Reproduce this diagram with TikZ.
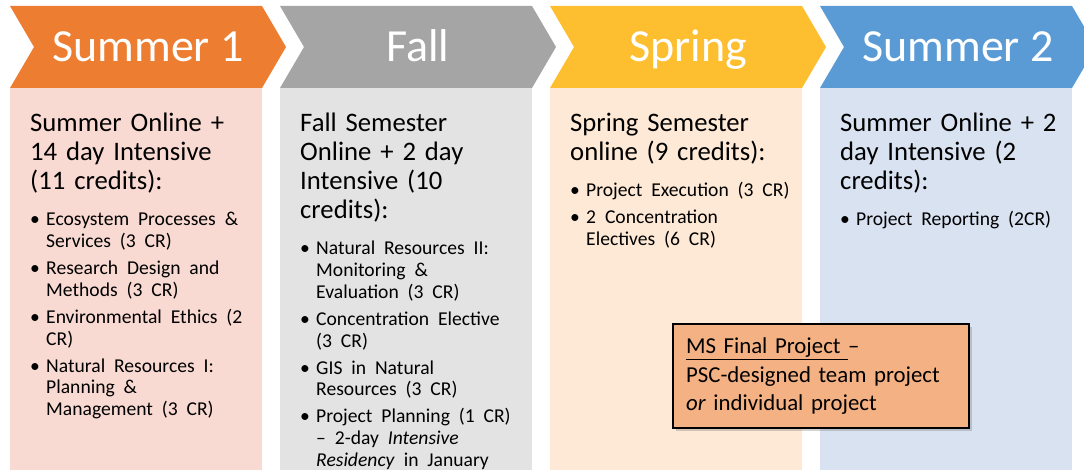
\documentclass[tikz,border=0pt]{standalone}
\usepackage{fontspec}
\setmainfont{Carlito}
\usetikzlibrary{shadows}

\definecolor{sumorange}{HTML}{ED7D31}
\definecolor{fallgrey}{HTML}{A5A5A5}
\definecolor{springgold}{HTML}{FDBF2F}
\definecolor{sumblue}{HTML}{5B9BD5}
\definecolor{pinkpale}{HTML}{F8DAD2}
\definecolor{greypale}{HTML}{E3E3E3}
\definecolor{goldpale}{HTML}{FDE9D5}
\definecolor{bluepale}{HTML}{D9E2F1}
\definecolor{projfill}{HTML}{F4B183}

% heading of a term, then its courses
\newcommand{\lines}[1]{\begin{tabular}[t]{@{}l@{}}#1\end{tabular}}
\newcommand{\termhead}[1]{\noindent\lines{#1}\par\vspace{6.8pt}}
\newcommand{\crs}[1]{\par\vspace{5.3pt}\fontsize{19.6}{21.7}\selectfont
  \noindent\makebox[16pt][l]{\textbullet}\lines{#1}\par}

\begin{document}
\begin{tikzpicture}[
        x=1pt, y=-1pt,
        panel/.style={rectangle, inner sep=0pt, anchor=north west,
          minimum width=252pt, minimum height=382pt},
        title/.style={anchor=base, text=white, inner sep=0pt,
          font=\fontsize{46}{50}\selectfont},
        body/.style={anchor=base west, inner sep=0pt, text width=245pt,
          font=\fontsize{26.7}{29}\selectfont,
          execute at begin node={\lineskip=0pt\parskip=0pt}},
        project/.style={draw=black, line width=2.2pt, fill=projfill,
          anchor=north west, minimum width=296pt, minimum height=104pt,
          text width=270pt, inner xsep=13pt, align=left,
          font=\fontsize{22.8}{28.5}\selectfont,
          drop shadow={shadow xshift=3pt, shadow yshift=-3pt, opacity=0.35}}
        ]
        \useasboundingbox (0,0) rectangle (1084,470);

        % chevrons
        \fill[sumorange] (10,6) -- (262,6) -- (286,47) -- (262,88) -- (10,88) -- (34,47) -- cycle;
        \fill[fallgrey] (280,6) -- (532,6) -- (556,47) -- (532,88) -- (280,88) -- (304,47) -- cycle;
        \fill[springgold] (550,6) -- (802,6) -- (826,47) -- (802,88) -- (550,88) -- (574,47) -- cycle;
        \fill[sumblue] (820,6) -- (1072,6) -- (1096,47) -- (1072,88) -- (820,88) -- (844,47) -- cycle;

        \node[title] (t1) at (148,62) {Summer 1};
        \node[title] (t2) at (418,62) {Fall};
        \node[title] (t3) at (688,62) {Spring};
        \node[title] (t4) at (958,62) {Summer 2};

        % panels
        \node[panel, fill=pinkpale] (p1) at (10,88) {};
        \node[panel, fill=greypale] (p2) at (280,88) {};
        \node[panel, fill=goldpale] (p3) at (550,88) {};
        \node[panel, fill=bluepale] (p4) at (820,88) {};

        \node[body] (c1) at (30,132) {\termhead{Summer Online +\\14 day Intensive\\(11 credits):}
          \crs{Ecosystem Processes \&\\Services (3 CR)}
          \crs{Research Design and\\Methods (3 CR)}
          \crs{Environmental Ethics (2\\CR)}
          \crs{Natural Resources I:\\Planning \&\\Management (3 CR)}};
        \node[body] (c2) at (300,132) {\termhead{Fall Semester\\Online + 2 day\\Intensive (10\\credits):}
          \crs{Natural Resources II:\\Monitoring \&\\Evaluation (3 CR)}
          \crs{Concentration Elective\\(3 CR)}
          \crs{GIS in Natural\\Resources (3 CR)}
          \crs{Project Planning (1 CR)\\-- 2-day \textit{Intensive}\\\textit{Residency} in January}};
        \node[body] (c3) at (570,132) {\termhead{Spring Semester\\online (9 credits):}
          \crs{Project Execution (3 CR)}
          \crs{2 Concentration\\Electives (6 CR)}};
        \node[body] (c4) at (840,132) {\termhead{Summer Online + 2\\day Intensive (2\\credits):}
          \crs{Project Reporting (2CR)}};

        \node[project] (proj) at (672,323) {\underline{MS Final Project\ }--\\
          PSC-designed team project\\\textit{or} individual project};
    \end{tikzpicture}
\end{document}
